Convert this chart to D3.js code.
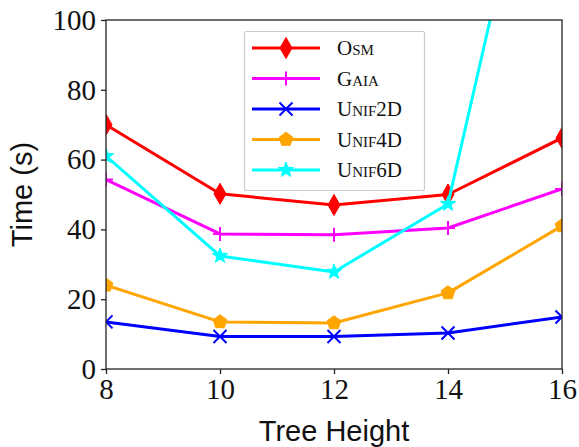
<!DOCTYPE html>
<html><head><meta charset="utf-8">
<script src="https://cdn.jsdelivr.net/npm/d3@7"></script>
<style>body{margin:0;background:#fff;}svg{display:block;}</style>
</head><body>
<svg id="chart" width="579" height="447"></svg>
<script>
const treeHeights = [8, 10, 12, 14, 16];
const seriesNames = ["Osm", "Gaia", "Unif2D", "Unif4D", "Unif6D"];
const osm    = [70, 50.2, 47, 50, 66.2];
const gaia   = [54.3, 38.7, 38.5, 40.4, 51.6];
const unif2d = [13.5, 9.3, 9.3, 10.3, 14.9];
const unif4d = [24, 13.5, 13.2, 21.8, 41];
const unif6d = [61, 32.4, 27.8, 47.3, 190];
const xTicks = [8, 10, 12, 14, 16];
const yTicks = [0, 20, 40, 60, 80, 100];

const colors = ["#ff0000", "#ff00ff", "#0000ff", "#ffa500", "#00ffff"];
const markers = ["thin_diamond", "plus", "x", "pentagon", "star"];
const allSeries = [osm, gaia, unif2d, unif4d, unif6d];

const svg = d3.select("#chart");
const L = 106, R = 562, T = 20, B = 369;
const x = d3.scaleLinear().domain([8, 16]).range([L, R]);
const y = d3.scaleLinear().domain([0, 100]).range([B, T]);

svg.append("defs").append("clipPath").attr("id", "clip")
  .append("rect").attr("x", L).attr("y", T).attr("width", R - L).attr("height", B - T);

function markerPath(type) {
  if (type === "thin_diamond") return "M0,-10.5L6,0L0,10.5L-6,0Z";
  if (type === "plus") return "M-7,0L7,0M0,-7L0,7";
  if (type === "x") return "M-6.5,-6.5L6.5,6.5M-6.5,6.5L6.5,-6.5";
  if (type === "pentagon") {
    const pts = d3.range(5).map(i => {
      const a = -Math.PI / 2 + i * 2 * Math.PI / 5;
      return [7.2 * Math.cos(a), 7.2 * Math.sin(a)];
    });
    return "M" + pts.map(p => p.join(",")).join("L") + "Z";
  }
  if (type === "star") {
    const pts = d3.range(10).map(i => {
      const a = -Math.PI / 2 + i * Math.PI / 5;
      const r = i % 2 === 0 ? 8 : 3.3;
      return [r * Math.cos(a), r * Math.sin(a)];
    });
    return "M" + pts.map(p => p.join(",")).join("L") + "Z";
  }
}
function drawMarker(g, type, color, cx, cy) {
  const filled = !(type === "plus" || type === "x");
  g.append("path").attr("d", markerPath(type))
    .attr("transform", `translate(${cx},${cy})`)
    .attr("fill", filled ? color : "none")
    .attr("stroke", color)
    .attr("stroke-width", filled ? 1 : 2)
    .attr("stroke-linejoin", "miter");
}

const plot = svg.append("g").attr("clip-path", "url(#clip)");
const line = d3.line().x((d, i) => x(treeHeights[i])).y(d => y(d));
allSeries.forEach((vals, si) => {
  plot.append("path").datum(vals).attr("d", line)
    .attr("fill", "none").attr("stroke", colors[si])
    .attr("stroke-width", 3).attr("stroke-linejoin", "round");
  vals.forEach((v, i) => drawMarker(plot, markers[si], colors[si], x(treeHeights[i]), y(v)));
});

// frame
svg.append("rect").attr("x", L).attr("y", T).attr("width", R - L).attr("height", B - T)
  .attr("fill", "none").attr("stroke", "#222").attr("stroke-width", 1.3);

const tickFont = "'Liberation Serif', 'DejaVu Serif', serif";
const xAxis = svg.append("g").attr("transform", `translate(0,${B})`)
  .call(d3.axisBottom(x).tickValues(xTicks).tickSize(5).tickPadding(4).tickFormat(d3.format("d")));
const yAxis = svg.append("g").attr("transform", `translate(${L},0)`)
  .call(d3.axisLeft(y).tickValues(yTicks).tickSize(5).tickPadding(5).tickFormat(d3.format("d")));
[xAxis, yAxis].forEach(a => {
  a.select(".domain").remove();
  a.selectAll(".tick line").attr("stroke", "#222").attr("stroke-width", 1.3);
  a.selectAll(".tick text").attr("font-family", tickFont).attr("font-size", 29).attr("fill", "#111");
});

const labelFont = "'Liberation Sans', Arial, sans-serif";
svg.append("text").attr("x", (L + R) / 2).attr("y", 441).attr("text-anchor", "middle")
  .attr("font-family", labelFont).attr("font-size", 29).attr("fill", "#111").text("Tree Height");
svg.append("text").attr("transform", `translate(32,${(T + B) / 2 + 0}) rotate(-90)`)
  .attr("text-anchor", "middle").attr("font-family", labelFont).attr("font-size", 29)
  .attr("fill", "#111").text("Time (s)");

// legend
const lg = svg.append("g");
lg.append("rect").attr("x", 244.5).attr("y", 31.5).attr("width", 180).attr("height", 159)
  .attr("rx", 2).attr("fill", "rgba(255,255,255,0.85)").attr("stroke", "#cccccc").attr("stroke-width", 1.2);
seriesNames.forEach((name, i) => {
  const cy = 48 + i * 30.5;
  lg.append("line").attr("x1", 252).attr("x2", 320).attr("y1", cy).attr("y2", cy)
    .attr("stroke", colors[i]).attr("stroke-width", 3);
  drawMarker(lg, markers[i], colors[i], 286, cy);
  lg.append("text").attr("x", 337).attr("y", cy + 7).attr("font-family", tickFont)
    .attr("font-size", 21).attr("font-variant", "small-caps").attr("fill", "#111").text(name);
});
</script>
</body></html>
